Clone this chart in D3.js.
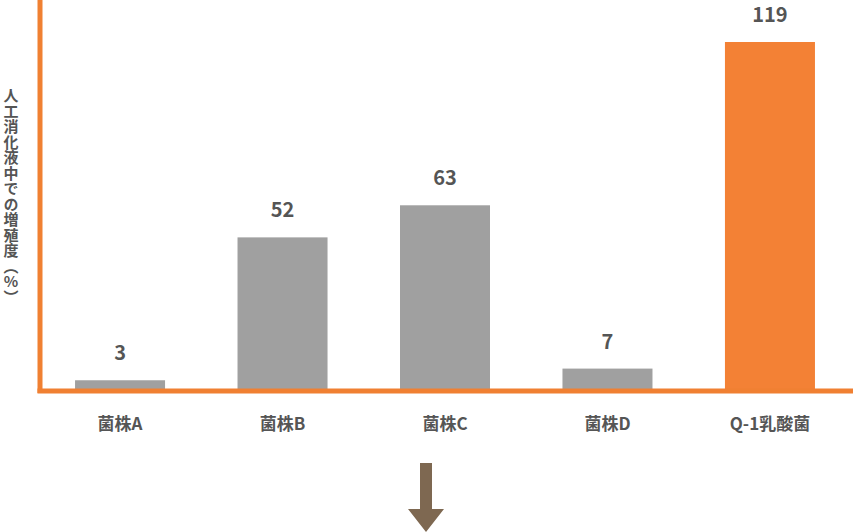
<!DOCTYPE html>
<html>
<head>
<meta charset="utf-8">
<script src="https://cdn.jsdelivr.net/npm/d3@7"></script>
<style>
	body { margin: 0; background: #fff; }
	svg { display: block; font-family: "Noto Sans CJK JP", "Noto Sans", sans-serif; }
</style>
</head>
<body>
<script>
var categories = ["菌株A", "菌株B", "菌株C", "菌株D", "Q-1乳酸菌"]
var values = [3, 52, 63, 7, 119]
var highlight = "Q-1乳酸菌"
var yTitle = "人工消化液中での増殖度（%）"

function main() {
	var w = 853
	var h = 532
	var base = 389

	var xScale = d3.scaleBand()
		.domain(categories)
		.range([38, 852])
		.paddingInner(0.446)
		.paddingOuter(0.228)

	var yScale = d3.scaleLinear()
		.domain([0, 119])
		.range([base, 42])

	var svg = d3.select("body")
		.append("svg")
		.attr("width", w)
		.attr("height", h)

	// bars
	svg.selectAll(".bar")
		.data(categories)
		.enter().append("rect")
		.attr("class", "bar")
		.attr("x", (d) => xScale(d))
		.attr("y", (d, i) => yScale(values[i]))
		.attr("width", xScale.bandwidth())
		.attr("height", (d, i) => base - yScale(values[i]))
		.attr("fill", (d) => d == highlight ? "#f38135" : "#a0a0a0")

	// value labels
	svg.selectAll(".val")
		.data(categories)
		.enter().append("text")
		.attr("class", "val")
		.attr("x", (d) => xScale(d) + xScale.bandwidth() / 2)
		.attr("y", (d, i) => yScale(values[i]) - 20)
		.attr("text-anchor", "middle")
		.attr("fill", "#555")
		.style("font-size", "20px")
		.style("font-weight", "bold")
		.text((d, i) => values[i])

	// axes lines (orange L)
	svg.append("line")
		.attr("x1", 40).attr("x2", 40)
		.attr("y1", 0).attr("y2", base + 4)
		.attr("stroke", "#f08032")
		.attr("stroke-width", 5)
	svg.append("line")
		.attr("x1", 37.5).attr("x2", w)
		.attr("y1", base + 2).attr("y2", base + 2)
		.attr("stroke", "#f08032")
		.attr("stroke-width", 5)

	// category labels
	var xAxis = d3.axisBottom(xScale).tickSize(0).tickPadding(0)
	var gx = svg.append("g")
		.attr("transform", "translate(0," + 430 + ")")
		.call(xAxis)
	gx.select(".domain").remove()
	gx.selectAll("text")
		.attr("y", 0)
		.attr("dy", 0)
		.attr("fill", "#555")
		.style("font-size", "17px")
		.style("font-weight", "bold")
		.style("font-family", "'Noto Sans CJK JP', sans-serif")

	// y title, vertical
	svg.append("text")
		.attr("x", 11)
		.attr("y", 88)
		.attr("fill", "#555")
		.style("writing-mode", "vertical-rl")
		.style("text-orientation", "upright")
		.style("font-size", "15px")
		.style("letter-spacing", "0.5px")
		.style("font-weight", "bold")
		.text(yTitle)

	// arrow below 菌株C
	var cx = xScale("菌株C") + xScale.bandwidth() / 2 - 19
	var arrow = d3.path()
	arrow.moveTo(cx - 6, 463)
	arrow.lineTo(cx + 6, 463)
	arrow.lineTo(cx + 6, 509)
	arrow.lineTo(cx + 18, 509)
	arrow.lineTo(cx, 532)
	arrow.lineTo(cx - 18, 509)
	arrow.lineTo(cx - 6, 509)
	arrow.closePath()
	svg.append("path")
		.attr("d", arrow.toString())
		.attr("fill", "#7e6851")
}

main()
</script>
</body>
</html>
